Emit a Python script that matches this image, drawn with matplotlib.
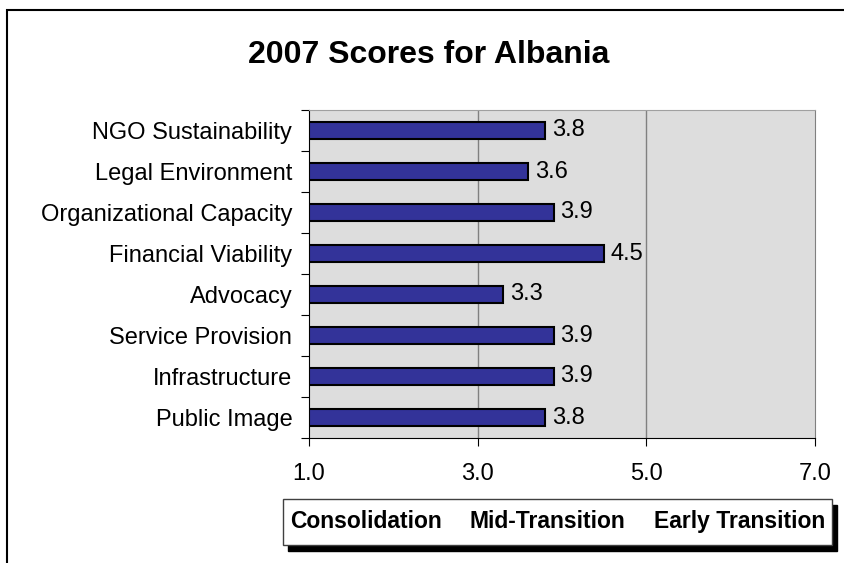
import numpy as np
import matplotlib.pyplot as plt
from matplotlib.patches import Rectangle

plt.rcParams['font.family'] = ['Liberation Sans', 'DejaVu Sans']

# Chart data
categories = ['NGO Sustainability', 'Legal Environment', 'Organizational Capacity',
              'Financial Viability', 'Advocacy', 'Service Provision',
              'Infrastructure', 'Public Image']
scores = [3.8, 3.6, 3.9, 4.5, 3.3, 3.9, 3.9, 3.8]
x_ticks = [1.0, 3.0, 5.0, 7.0]
stages = ['Consolidation', 'Mid-Transition', 'Early Transition']

W, H = 844, 563
fig = plt.figure(figsize=(W / 100, H / 100), dpi=100)

# outer frame (only top and left are visible in the reference)
fig.patches.append(Rectangle((7 / W, -0.1), 1.2, 1.1 - 10 / H, transform=fig.transFigure,
                             fill=False, edgecolor='black', linewidth=1.5, clip_on=False))

ax = fig.add_axes([309 / W, 1 - 438 / H, (815 - 309) / W, (438 - 110) / H])
ax.set_facecolor('#DDDDDD')

y = np.arange(len(categories))
ax.barh(y, [s - 1.0 for s in scores], left=1.0, height=0.4,
        color='#333399', edgecolor='black', linewidth=1.5, zorder=3)
for yi, s in zip(y, scores):
    ax.text(s + 0.08, yi, f'{s:.1f}', va='center', ha='left', fontsize=17, zorder=4)

ax.set_xlim(1, 7)
ax.set_ylim(len(categories) - 0.5, -0.5)
ax.set_xticks(x_ticks)
ax.set_xticklabels([f'{t:.1f}' for t in x_ticks], fontsize=17)
ax.tick_params(axis='x', direction='out', length=6, pad=12)

ax.set_yticks(np.arange(-0.5, len(categories), 1.0))
ax.set_yticklabels([])
ax.set_yticks(y, minor=True)
ax.set_yticklabels(categories, minor=True, fontsize=17)
ax.tick_params(axis='y', which='major', direction='out', length=6)
ax.tick_params(axis='y', which='minor', length=0, pad=12)

for xv in [3.0, 5.0]:
    ax.axvline(xv, color='#808080', linewidth=1, zorder=1)

ax.spines['left'].set_color('black')
ax.spines['bottom'].set_color('black')
ax.spines['top'].set_color('#A0A0A0')
ax.spines['right'].set_color('#808080')

fig.text(429 / W, 1 - 55 / H, '2007 Scores for Albania', ha='center', va='center',
         fontsize=23, fontweight='bold')

# stage legend box with shadow
bx0, bx1, by0, by1 = 283, 832, 499, 545
fig.patches.append(Rectangle(((bx0 + 5) / W, 1 - (by1 + 6) / H), (bx1 - bx0) / W,
                             (by1 - by0) / H, transform=fig.transFigure,
                             facecolor='black', edgecolor='black', zorder=1))
fig.patches.append(Rectangle((bx0 / W, 1 - by1 / H), (bx1 - bx0) / W, (by1 - by0) / H,
                             transform=fig.transFigure, facecolor='white',
                             edgecolor='#404040', linewidth=1, zorder=2))
for label, cx in zip(stages, [366, 547, 740]):
    fig.text(cx / W, 1 - 528 / H, label, ha='center', va='baseline',
             fontsize=16.5, fontweight='bold', zorder=3)

fig.savefig('out.png', dpi=100)
